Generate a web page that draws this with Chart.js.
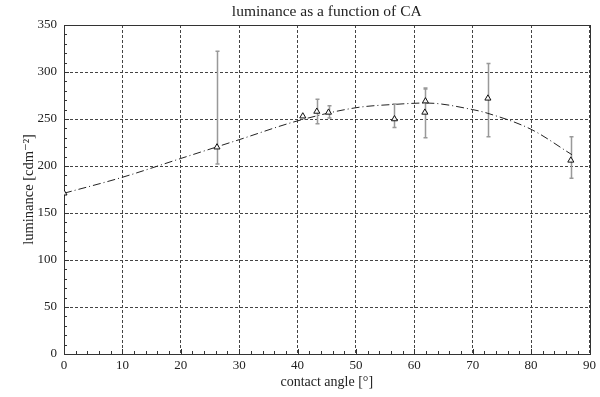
<!DOCTYPE html>
<html>
<head>
<meta charset="utf-8">
<script src="https://cdn.jsdelivr.net/npm/chart.js@4/dist/chart.umd.min.js"></script>
<style>
html,body{margin:0;padding:0;background:#fff;}
#wrap{width:600px;height:397px;}
</style>
</head>
<body>
<div id="wrap"><canvas id="c" width="600" height="397"></canvas></div>
<script>
// measured points (contact angle, luminance) with error bar ends
const angles    = [0, 26.2, 40.9, 43.3, 45.3, 56.6, 61.8, 61.9, 72.6, 86.8];
const luminance = [171, 220, 253, 258, 257, 250, 257, 269, 272, 206];
const errHigh   = [null, 322, null, 271, 264, 266, 282, 283, 309, 231];
const errLow    = [null, 202, null, 245, 251, 241, 230, 257, 231, 187];
// fitted trend curve
const curveX = [0, 10, 20, 26, 30, 40, 50, 56.5, 62, 70, 72.6, 80, 87];
const curveY = [171, 188, 208, 220, 228, 248, 262, 265.5, 267, 260, 256, 239, 212];

const titleText = 'luminance as a function of CA';
const xTitle = 'contact angle [°]';
const yTitle = 'luminance [cdm⁻²]';
const serif = "'Liberation Serif', 'DejaVu Serif', serif";

const pts = angles.map((x, i) => ({x, y: luminance[i]}));
const curve = curveX.map((x, i) => ({x, y: curveY[i]}));

const decor = {
  id: 'decor',
  beforeDatasetsDraw(chart) {
    const {ctx, chartArea: a, scales: {x, y}} = chart;
    ctx.save();
    // minor ticks inside
    ctx.strokeStyle = '#333';
    ctx.lineWidth = 1;
    ctx.beginPath();
    for (let v = 0; v <= 90; v += 2) {
      const px = Math.round(x.getPixelForValue(v)) + 0.5;
      ctx.moveTo(px, a.bottom);
      ctx.lineTo(px, a.bottom - (v % 10 === 0 ? 5 : 3));
    }
    for (let v = 0; v <= 350; v += 10) {
      const py = Math.round(y.getPixelForValue(v)) + 0.5;
      ctx.moveTo(a.left, py);
      ctx.lineTo(a.left + (v % 50 === 0 ? 5 : 3), py);
    }
    ctx.stroke();
    // frame
    ctx.strokeStyle = '#333';
    ctx.strokeRect(Math.round(a.left) + 0.5, Math.round(a.top) + 0.5,
                   Math.round(a.right - a.left), Math.round(a.bottom - a.top));
    // error bars
    ctx.strokeStyle = '#999';
    ctx.lineWidth = 1.5;
    ctx.beginPath();
    angles.forEach((ang, i) => {
      if (errHigh[i] == null) return;
      const px = Math.round(x.getPixelForValue(ang)) + 0.5;
      const y1 = y.getPixelForValue(errHigh[i]);
      const y2 = y.getPixelForValue(errLow[i]);
      ctx.moveTo(px, y1); ctx.lineTo(px, y2);
      ctx.moveTo(px - 2, y1); ctx.lineTo(px + 2, y1);
      ctx.moveTo(px - 2, y2); ctx.lineTo(px + 2, y2);
    });
    ctx.stroke();
    ctx.restore();
  },
  afterDraw(chart) {
    const {ctx, chartArea: a} = chart;
    ctx.save();
    ctx.fillStyle = '#222';
    ctx.font = '15.5px ' + serif;
    ctx.textAlign = 'center';
    ctx.textBaseline = 'middle';
    ctx.fillText(titleText, (a.left + a.right) / 2, 12);
    ctx.restore();
  }
};

new Chart(document.getElementById('c'), {
  type: 'scatter',
  data: {
    datasets: [
      {
        data: pts,
        pointStyle: 'triangle',
        pointRadius: 3.5,
        pointBorderColor: '#111',
        pointBackgroundColor: 'rgba(255,255,255,0.9)',
        pointBorderWidth: 1,
        showLine: false
      },
      {
        data: curve,
        showLine: true,
        borderColor: '#222',
        borderWidth: 1,
        borderDash: [8, 3, 1, 3],
        cubicInterpolationMode: 'monotone',
        pointRadius: 0,
        fill: false
      }
    ]
  },
  options: {
    responsive: false,
    animation: false,
    devicePixelRatio: 1,
    layout: {padding: {top: 25, right: 3, left: 0, bottom: 0}},
    plugins: {legend: {display: false}, tooltip: {enabled: false}, title: {display: false}},
    scales: {
      x: {
        type: 'linear', min: 0, max: 90,
        ticks: {stepSize: 10, color: '#222', font: {family: serif, size: 13}, padding: 4, maxRotation: 0},
        grid: {color: '#444', lineWidth: 1, drawTicks: false},
        border: {display: true, color: '#333', dash: [3, 2]},
        title: {display: true, text: xTitle, color: '#222', font: {family: serif, size: 14}, padding: {top: 0, bottom: 6}},
        afterFit(s) { s.height = 43; }
      },
      y: {
        type: 'linear', min: 0, max: 350,
        ticks: {stepSize: 50, color: '#222', font: {family: serif, size: 13}, padding: 7},
        grid: {color: '#444', lineWidth: 1, drawTicks: false},
        border: {display: true, color: '#333', dash: [3, 2]},
        title: {display: true, text: yTitle, color: '#222', font: {family: serif, size: 14.5}, padding: {top: 20, bottom: 0}},
        afterFit(s) { s.width = 64; }
      }
    }
  },
  plugins: [decor]
});
</script>
</body>
</html>
